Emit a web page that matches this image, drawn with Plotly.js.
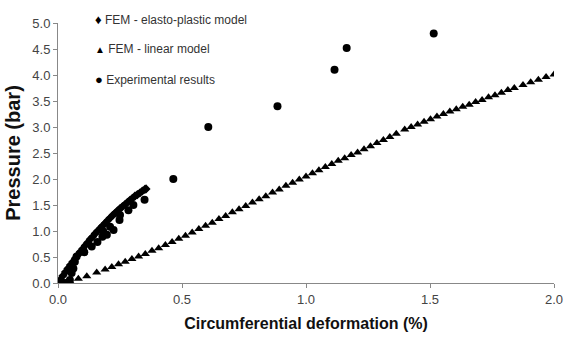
<!DOCTYPE html>
<html>
<head>
<meta charset="utf-8">
<script src="https://cdn.plot.ly/plotly-3.0.1.min.js"></script>
<style>html,body{margin:0;padding:0;background:#fff;}#chart{width:569px;height:338px;}</style>
</head>
<body>
<div id="chart"></div>
<script>
// FEM - elasto-plastic model
const plasticX = [0.00,0.01,0.02,0.03,0.04,0.05,0.06,0.07,0.08,0.09,0.10,0.11,0.12,0.13,0.14,0.15,0.16,0.17,0.18,0.19,0.20,0.21,0.22,0.23,0.24,0.25,0.26,0.27,0.28,0.29,0.30,0.31,0.32,0.33,0.34,0.35,0.355];
const plasticY = [0.00,0.07,0.14,0.21,0.28,0.345,0.41,0.475,0.54,0.60,0.66,0.72,0.78,0.84,0.89,0.95,1.00,1.05,1.10,1.15,1.20,1.25,1.30,1.34,1.39,1.43,1.47,1.51,1.55,1.59,1.63,1.67,1.70,1.73,1.77,1.80,1.81];

// FEM - linear model
const linearX = [0.05,0.082,0.116,0.156,0.19,0.217,0.244,0.271,0.298,0.325,0.352,0.379,0.406,0.433,0.46,0.487,0.514,0.541,0.568,0.595,0.622,0.649,0.676,0.703,0.73,0.757,0.784,0.811,0.838,0.865,0.892,0.919,0.946,0.973,1.0,1.026,1.052,1.078,1.104,1.13,1.156,1.182,1.208,1.234,1.26,1.286,1.312,1.338,1.364,1.398,1.424,1.45,1.476,1.502,1.528,1.554,1.58,1.606,1.632,1.658,1.684,1.71,1.736,1.762,1.788,1.814,1.84,1.875,1.906,1.937,1.968,2.0];
const linearY = [0.02,0.08,0.13,0.20,0.26,0.31,0.36,0.41,0.46,0.51,0.56,0.62,0.67,0.73,0.79,0.85,0.91,0.97,1.04,1.10,1.16,1.23,1.29,1.36,1.42,1.48,1.55,1.61,1.67,1.74,1.80,1.87,1.93,1.99,2.05,2.11,2.17,2.23,2.29,2.35,2.40,2.46,2.51,2.57,2.63,2.69,2.75,2.81,2.87,2.95,3.00,3.05,3.10,3.15,3.20,3.25,3.30,3.34,3.39,3.43,3.48,3.52,3.57,3.61,3.66,3.71,3.75,3.81,3.86,3.91,3.96,4.01];

// Experimental results
const expX = [0.0,0.03,0.048,0.055,0.062,0.068,0.075,0.106,0.136,0.159,0.179,0.183,0.197,0.21,0.224,0.248,0.25,0.284,0.304,0.349,0.465,0.606,0.885,1.115,1.164,1.515];
const expY = [0.0,0.0,0.06,0.19,0.28,0.41,0.51,0.59,0.70,0.79,0.89,0.99,0.93,1.08,1.02,1.21,1.31,1.40,1.50,1.60,2.0,3.0,3.4,4.1,4.52,4.8];

const seriesNames = ["FEM - elasto-plastic model","FEM - linear model","Experimental results"];
const legendGlyphs = ["\u2666", "\u25B2", "\u25CF"];
const xTicks = [0.0,0.5,1.0,1.5,2.0];
const yTicks = [0.0,0.5,1.0,1.5,2.0,2.5,3.0,3.5,4.0,4.5,5.0];

const traces = [
  {x: plasticX, y: plasticY, name: seriesNames[0], mode: 'markers', type: 'scatter',
   marker: {symbol: 'diamond', size: 7, color: '#000'}},
  {x: linearX, y: linearY, name: seriesNames[1], mode: 'markers', type: 'scatter',
   marker: {symbol: 'triangle-up', size: 8, color: '#000'}},
  {x: expX, y: expY, name: seriesNames[2], mode: 'markers', type: 'scatter',
   marker: {symbol: 'circle', size: 8, color: '#000'}}
];

// legend drawn as text labels (key glyph + series name)
const legendY = [1.012, 0.90, 0.781];
const glyphSize = [13, 10, 13];
const annotations = seriesNames.map((n, i) => ({
  xref: 'paper', yref: 'paper', x: 0.071, y: legendY[i], xanchor: 'left', yanchor: 'middle',
  showarrow: false, align: 'left',
  text: '<span style="color:#000;font-size:' + glyphSize[i] + 'px">' + legendGlyphs[i] + '</span> ' + n,
  font: {size: 12, color: '#333', family: 'Liberation Sans, Arial, sans-serif'}
}));

const layout = {
  width: 569, height: 338,
  margin: {l: 58, r: 15, t: 23, b: 55},
  paper_bgcolor: '#fff', plot_bgcolor: '#fff',
  font: {family: 'Liberation Sans, Arial, sans-serif', color: '#333'},
  showlegend: false,
  annotations: annotations,
  xaxis: {range: [0, 2], tickvals: xTicks, ticktext: xTicks.map(v => v.toFixed(1)),
          showgrid: false, zeroline: false, showline: true, linecolor: '#888', linewidth: 1,
          ticks: 'outside', ticklen: 4, tickcolor: '#888', tickfont: {size: 13, color: '#444'},
          title: {text: '<b>Circumferential deformation (%)</b>',
                  font: {size: 16, color: '#111'}, standoff: 12}},
  yaxis: {range: [0, 5], tickvals: yTicks, ticktext: yTicks.map(v => v.toFixed(1)),
          showgrid: false, zeroline: false, showline: true, linecolor: '#888', linewidth: 1,
          ticks: 'outside', ticklen: 4, tickcolor: '#888', tickfont: {size: 13, color: '#444'},
          title: {text: '<b>Pressure (bar)</b>', font: {size: 20, color: '#111'}, standoff: 6}}
};

Plotly.newPlot('chart', traces, layout, {displayModeBar: false, staticPlot: true});
</script>
</body>
</html>
